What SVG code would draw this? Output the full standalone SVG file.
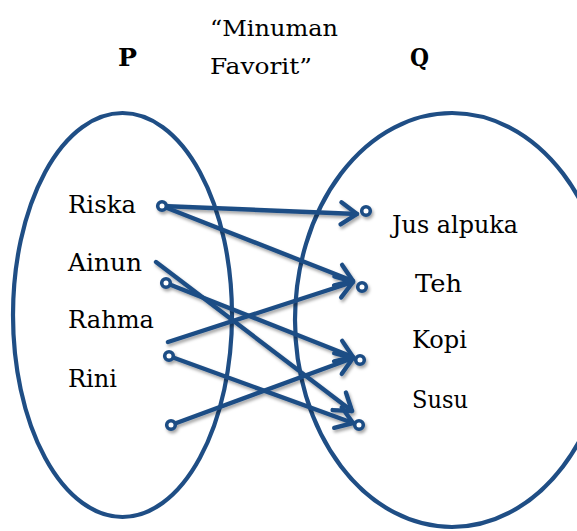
<svg xmlns="http://www.w3.org/2000/svg" width="577" height="531" viewBox="0 0 577 531">
<style>
  .set { fill: none; stroke: #1F4E85; stroke-width: 4.2; }
  .lbl { font-family: "DejaVu Serif", "Liberation Serif", serif; font-size: 24px; fill: #000; }
  .ttl { font-family: "DejaVu Serif", "Liberation Serif", serif; font-size: 22px; fill: #000; }
  .hd { font-family: "DejaVu Serif", "Liberation Serif", serif; font-size: 24px; font-weight: bold; fill: #000; }
  .ln { fill: none; stroke: #1F4E85; stroke-width: 4.4; stroke-linecap: round; }
  .dot { fill: #fff; stroke: #1F4E85; stroke-width: 3.6; }
</style>
<defs>
  <filter id="sh" x="-10%" y="-10%" width="130%" height="130%">
    <feDropShadow dx="1.5" dy="2.5" stdDeviation="1.4" flood-color="#000" flood-opacity="0.35"/>
  </filter>
  <marker id="arr" markerUnits="userSpaceOnUse" viewBox="-20 -14 24 28" markerWidth="24" markerHeight="28" refX="0" refY="0" orient="auto" overflow="visible">
    <path d="M-16,-11 L0,0 L-16,11" fill="none" stroke="#1F4E85" stroke-width="4.4" stroke-linecap="round" stroke-linejoin="round"/>
  </marker>
</defs>
<rect width="577" height="531" fill="#fff"/>

<g id="title">
  <text class="ttl" x="210" y="36" textLength="128" lengthAdjust="spacingAndGlyphs">“Minuman</text>
  <text class="ttl" x="210" y="74" textLength="102" lengthAdjust="spacingAndGlyphs">Favorit”</text>
</g>

<g id="setP">
  <ellipse class="set" cx="122.5" cy="315" rx="109.5" ry="202"/>
  <text class="hd" x="118" y="66" textLength="19" lengthAdjust="spacingAndGlyphs">P</text>
  <text class="lbl" x="68" y="213" textLength="68" lengthAdjust="spacingAndGlyphs">Riska</text>
  <text class="lbl" x="68" y="271" textLength="74" lengthAdjust="spacingAndGlyphs">Ainun</text>
  <text class="lbl" x="68" y="328" textLength="86" lengthAdjust="spacingAndGlyphs">Rahma</text>
  <text class="lbl" x="68" y="387" textLength="49" lengthAdjust="spacingAndGlyphs">Rini</text>
</g>

<g id="setQ">
  <ellipse class="set" cx="452" cy="320" rx="157" ry="207"/>
  <text class="hd" x="410" y="66" textLength="19" lengthAdjust="spacingAndGlyphs">Q</text>
  <text class="lbl" x="392" y="233" textLength="126" lengthAdjust="spacingAndGlyphs">Jus alpuka</text>
  <text class="lbl" x="415" y="292" textLength="47" lengthAdjust="spacingAndGlyphs">Teh</text>
  <text class="lbl" x="412" y="348" textLength="55" lengthAdjust="spacingAndGlyphs">Kopi</text>
  <text class="lbl" x="412" y="408" textLength="56" lengthAdjust="spacingAndGlyphs">Susu</text>
</g>

<g id="connectors" filter="url(#sh)">
  <line class="ln" x1="162" y1="206" x2="357" y2="214" marker-end="url(#arr)"/>
  <line class="ln" x1="162" y1="206" x2="353" y2="281" marker-end="url(#arr)"/>
  <line class="ln" x1="166" y1="283" x2="353" y2="357" marker-end="url(#arr)"/>
  <line class="ln" x1="156" y1="262" x2="352" y2="411" marker-end="url(#arr)"/>
  <line class="ln" x1="168" y1="342" x2="353" y2="282" marker-end="url(#arr)"/>
  <line class="ln" x1="169" y1="356" x2="353" y2="423" marker-end="url(#arr)"/>
  <line class="ln" x1="171" y1="425" x2="353" y2="358" marker-end="url(#arr)"/>
  <circle class="dot" cx="162" cy="206" r="4.3"/>
  <circle class="dot" cx="166" cy="283" r="4.3"/>
  <circle class="dot" cx="169" cy="356" r="4.3"/>
  <circle class="dot" cx="171" cy="425" r="4.3"/>
  <circle class="dot" cx="366" cy="211" r="4.3"/>
  <circle class="dot" cx="362" cy="287" r="4.3"/>
  <circle class="dot" cx="360" cy="360" r="4.3"/>
  <circle class="dot" cx="359" cy="425" r="4.3"/>
</g>
</svg>
